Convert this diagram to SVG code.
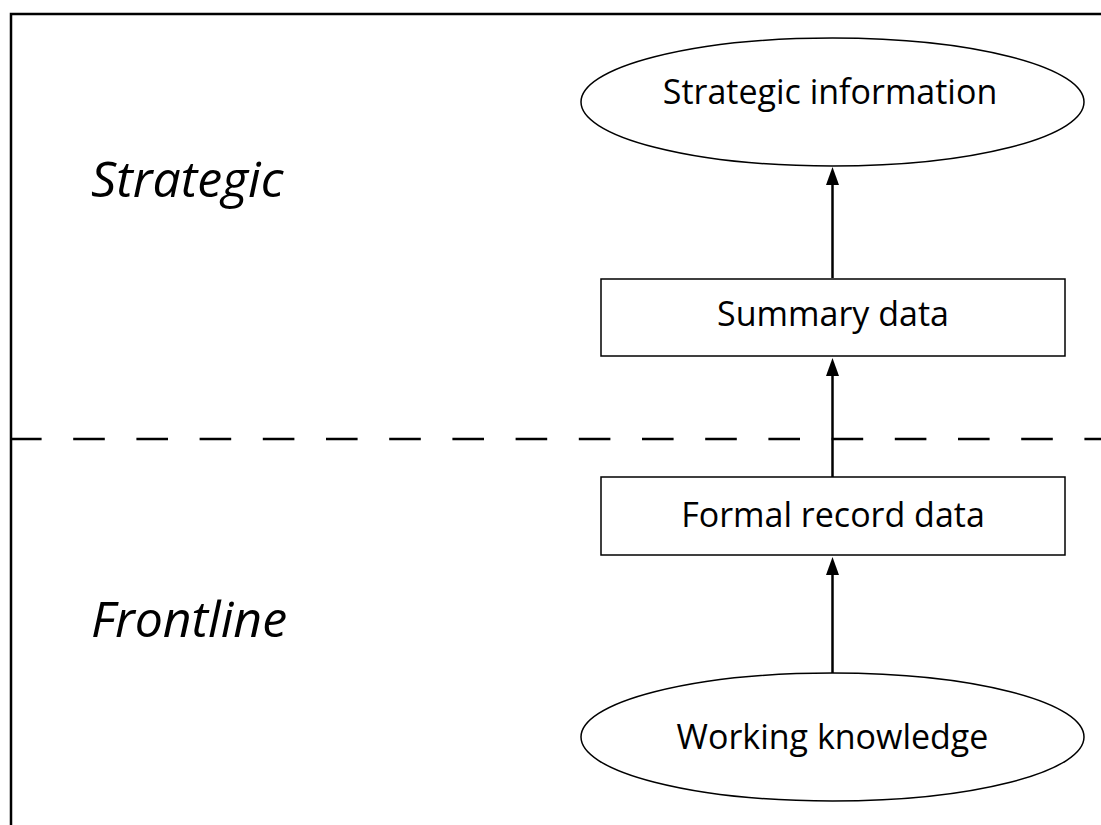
<svg xmlns="http://www.w3.org/2000/svg" width="1101" height="825" viewBox="0 0 1101 825">
<style>
.shape{fill:#fff;stroke:#000;stroke-width:1.5}
.lbl{font-family:"Open Sans","Noto Sans",sans-serif;font-size:34px;fill:#000;text-anchor:middle}
.zone{font-family:"Open Sans","Noto Sans",sans-serif;font-size:50px;font-style:italic;fill:#000}
.conn{stroke:#000;stroke-width:2.5;fill:none}
.head{fill:#000;stroke:none}
</style>
<rect width="1101" height="825" fill="#fff"/>
<rect x="11" y="14" width="1200" height="1000" fill="none" stroke="#000" stroke-width="2.5"/>
<line x1="10" y1="439" x2="1101" y2="439" stroke="#000" stroke-width="2.5" stroke-dasharray="31.6 31.6"/>
<g id="zone-strategic"><text class="zone" x="91" y="197">Strategic</text></g>
<g id="zone-frontline"><text class="zone" x="91" y="637">Frontline</text></g>
<g id="connectors">
<line class="conn" x1="832.5" y1="278" x2="832.5" y2="182"/>
<polygon class="head" points="832.5,167 826,185 839,185"/>
<line class="conn" x1="832.5" y1="477" x2="832.5" y2="373"/>
<polygon class="head" points="832.5,358 826,376 839,376"/>
<line class="conn" x1="832.5" y1="673" x2="832.5" y2="572"/>
<polygon class="head" points="832.5,557 826,575 839,575"/>
</g>
<g id="strategic-information">
<ellipse class="shape" cx="832.5" cy="102" rx="251.5" ry="64"/>
<text class="lbl" x="830" y="104">Strategic information</text>
</g>
<g id="summary-data">
<rect class="shape" x="601" y="279" width="464" height="77"/>
<text class="lbl" x="833" y="326">Summary data</text>
</g>
<g id="formal-record-data">
<rect class="shape" x="601" y="477" width="464" height="78"/>
<text class="lbl" x="833" y="527">Formal record data</text>
</g>
<g id="working-knowledge">
<ellipse class="shape" cx="832.5" cy="737" rx="251.5" ry="64"/>
<text class="lbl" x="832.5" y="749">Working knowledge</text>
</g>
</svg>
